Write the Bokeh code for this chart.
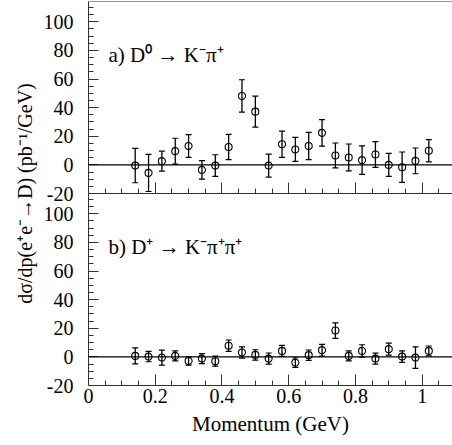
from bokeh.plotting import figure
from bokeh.models import (ColumnDataSource, Whisker, TeeHead, Span, Label, Range1d,
                          FixedTicker, LinearAxis)
from bokeh.embed import file_html
from bokeh.resources import INLINE

# ---------------- data ----------------
momentum = [0.14, 0.18, 0.22, 0.26, 0.30, 0.34, 0.38, 0.42, 0.46, 0.50, 0.54, 0.58,
            0.62, 0.66, 0.70, 0.74, 0.78, 0.82, 0.86, 0.90, 0.94, 0.98, 1.02]

d0_value = [-0.5, -5.6, 2.6, 9.6, 13.2, -3.5, -0.5, 12.5, 48.2, 37.2, -0.5, 14.4,
            10.8, 13.2, 22.4, 6.6, 5.2, 3.3, 7.3, 0.0, -1.6, 2.8, 9.9]
d0_error = [12.0, 13.0, 7.0, 9.0, 8.0, 6.5, 7.6, 8.8, 11.3, 10.8, 8.0, 9.2,
            8.4, 9.5, 9.3, 8.7, 9.4, 10.0, 9.0, 8.0, 10.6, 9.0, 7.8]

dp_value = [0.7, 0.2, -0.5, 0.7, -2.8, -1.2, -3.0, 7.8, 3.1, 1.4, -1.2, 4.2,
            -4.0, 1.2, 4.7, 18.4, 0.7, 4.2, -1.2, 5.4, 0.2, -0.5, 4.2]
dp_error = [5.6, 3.6, 5.2, 3.5, 3.0, 3.5, 3.5, 4.0, 3.9, 3.6, 3.9, 3.9,
            3.4, 3.6, 4.1, 5.4, 3.5, 4.3, 3.8, 4.2, 4.0, 7.5, 3.4]

y_ticks = [-20, 0, 20, 40, 60, 80, 100]
y_minor_ticks = [-20 + 5 * i for i in range(27)]
x_ticks = [0, 0.2, 0.4, 0.6, 0.8, 1.0]
x_tick_labels = {0: "0", 0.2: "0.2", 0.4: "0.4", 0.6: "0.6", 0.8: "0.8", 1.0: "1"}
x_minor_ticks = [round(0.05 * i, 2) for i in range(22)]

label_a = "a) D\u2070 \u2192 K\u207b\u03c0\u207a"
label_b = "b) D\u207a \u2192 K\u207b\u03c0\u207a\u03c0\u207a"
y_title = "d\u03c3/dp(e\u207ae\u207b\u2192D) (pb\u207b\u00b9/GeV)"
x_title = "Momentum (GeV)"

FONT = "Liberation Serif"

# each panel shows y in [-20, 114.2]; the two panels are stacked in one frame
Y_LO, Y_HI = -20.0, 114.2
SPAN = Y_HI - Y_LO
X_END = 1.091

p = figure(output_backend="svg", toolbar_location=None, width=452, height=445,
           x_range=Range1d(0, X_END),
           y_range=Range1d(Y_LO, Y_HI + SPAN),            # lower panel scale
           min_border_left=88, min_border_right=0, min_border_top=1,
           min_border_bottom=60)
p.extra_y_ranges = {"top": Range1d(Y_LO - SPAN, Y_HI)}     # upper panel scale
p.grid.visible = False
p.outline_line_color = None


def shifted(v):
    return round(v + SPAN, 6)


major = list(y_ticks) + [shifted(v) for v in y_ticks]
minor = [v for v in y_minor_ticks if v <= Y_HI] + [shifted(v) for v in y_minor_ticks if v <= Y_HI]
overrides = {float(v): str(v) for v in y_ticks}
overrides.update({shifted(v): str(v) for v in y_ticks})

yax = p.yaxis[0]
yax.ticker = FixedTicker(ticks=major, minor_ticks=minor)
yax.major_label_overrides = overrides
yax.major_tick_in = 10
yax.major_tick_out = 0
yax.minor_tick_in = 5
yax.minor_tick_out = 0
yax.major_label_text_font = FONT
yax.major_label_text_font_size = "20px"
yax.major_label_text_color = "black"
yax.major_label_standoff = 15
yax.axis_label = y_title
yax.axis_label_text_font = FONT
yax.axis_label_text_font_size = "20px"
yax.axis_label_text_font_style = "normal"
yax.axis_label_text_color = "black"
yax.axis_label_standoff = 5
yax.axis_line_color = "#333333"
yax.major_tick_line_color = "#333333"
yax.minor_tick_line_color = "#333333"

xax = p.xaxis[0]
xax.ticker = FixedTicker(ticks=x_ticks, minor_ticks=x_minor_ticks)
xax.major_label_overrides = x_tick_labels
xax.major_tick_in = 11
xax.major_tick_out = 0
xax.minor_tick_in = 5
xax.minor_tick_out = 0
xax.axis_line_color = "#333333"
xax.major_tick_line_color = "#333333"
xax.minor_tick_line_color = "#333333"
xax.major_label_text_font = FONT
xax.major_label_text_font_size = "20px"
xax.major_label_text_color = "black"
xax.major_label_standoff = 3
xax.axis_label = x_title
xax.axis_label_text_font = FONT
xax.axis_label_text_font_size = "21px"
xax.axis_label_text_font_style = "normal"
xax.axis_label_text_color = "black"
xax.axis_label_standoff = 6

# axis between the panels (bottom edge of the upper panel)
mid = LinearAxis(y_range_name="top", fixed_location=Y_LO,
                 ticker=FixedTicker(ticks=x_ticks, minor_ticks=x_minor_ticks),
                 major_label_overrides={t: "" for t in x_ticks},
                 major_label_text_font_size="1px", major_label_standoff=0,
                 major_tick_in=11, major_tick_out=0, minor_tick_in=5, minor_tick_out=0,
                 axis_line_color="#333333", major_tick_line_color="#333333",
                 minor_tick_line_color="#333333")
p.add_layout(mid, "below")

# top border of the upper panel
p.add_layout(Span(location=Y_HI, dimension="width", y_range_name="top",
                  line_color="#333333", line_width=1))


def draw_panel(values, errors, text, range_name):
    upper = [v + e for v, e in zip(values, errors)]
    lower = [v - e for v, e in zip(values, errors)]
    src = ColumnDataSource(dict(x=momentum, y=values, upper=upper, lower=lower))
    p.add_layout(Span(location=0, dimension="width", y_range_name=range_name,
                      line_color="black", line_width=1.4))
    p.add_layout(Whisker(base="x", upper="upper", lower="lower", source=src,
                         y_range_name=range_name, line_color="black", line_width=1.3,
                         upper_head=TeeHead(size=6, line_color="black", line_width=1.2),
                         lower_head=TeeHead(size=6, line_color="black", line_width=1.2)))
    p.scatter("x", "y", source=src, y_range_name=range_name, marker="circle", size=7,
              fill_color=None, line_color="black", line_width=1.1)
    p.add_layout(Label(x=0.06, y=68.5, y_range_name=range_name, text=text,
                       text_font=FONT, text_font_size="21px", text_color="black"))


draw_panel(d0_value, d0_error, label_a, "top")
draw_panel(dp_value, dp_error, label_b, "default")

open("out.html", "w").write(file_html(p, INLINE))
